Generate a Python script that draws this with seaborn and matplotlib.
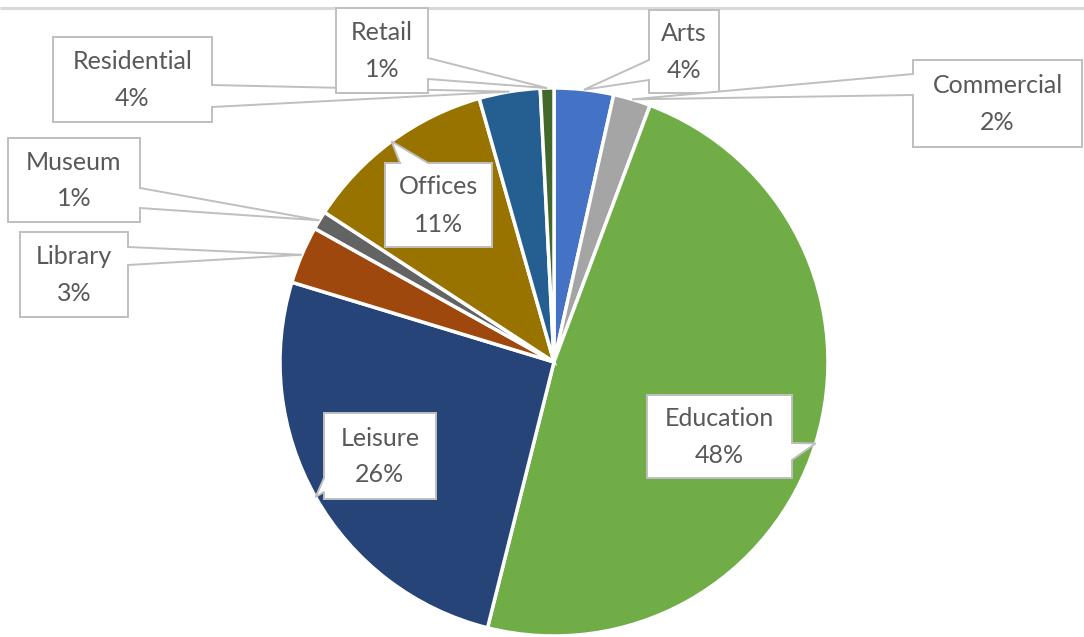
import numpy as np
import matplotlib
matplotlib.use("Agg")
import matplotlib.pyplot as plt
from matplotlib.patches import Polygon
import seaborn as sns

sns.set_theme(style="white")
plt.rcParams['font.family'] = ['Lato', 'DejaVu Sans']

# --------------------- Data ---------------------
categories = ['Arts', 'Commercial', 'Education', 'Leisure', 'Library',
              'Museum', 'Offices', 'Residential', 'Retail']
shares = [3.5, 2.2, 48.2, 25.8, 3.4, 1.1, 11.4, 3.6, 0.8]
colors = ['#4472C4', '#A5A5A5', '#70AD47', '#264478', '#9E480E',
          '#636363', '#997300', '#255E91', '#43682B']

# callout boxes in pixel coords (x0, y0, x1, y1), side the pointer leaves from,
# and where along that side the pointer attaches
W, H = 1084, 637
callouts = {
    'Arts':        ((649, 10, 719, 93), 'left', (60, 80)),
    'Commercial':  ((913, 60, 1082, 147), 'left', (74, 95)),
    'Education':   ((647, 395, 792, 478), 'right', (443, 460)),
    'Leisure':     ((324, 413, 436, 499), 'left', (478, 492)),
    'Library':     ((20, 232, 128, 317), 'right', (247, 265)),
    'Museum':      ((8, 138, 140, 222), 'right', (188, 208)),
    'Offices':     ((385, 163, 492, 247), 'top', (400, 428)),
    'Residential': ((53, 37, 212, 122), 'right', (85, 107)),
    'Retail':      ((336, 8, 428, 93), 'right', (58, 79)),
}

cx, cy, R = 554, H - 362, 274

fig = plt.figure(figsize=(W / 100, H / 100), dpi=100)
ax = fig.add_axes([0, 0, 1, 1])

wedges, _ = ax.pie(shares, colors=colors, startangle=90, counterclock=False,
                   center=(cx, cy), radius=R,
                   wedgeprops=dict(edgecolor='white', linewidth=2.5))

ax.set_xlim(0, W)
ax.set_ylim(0, H)
ax.set_aspect('equal')
ax.axis('off')

# chart border along the top
ax.plot([0, W], [H - 8, H - 8], color='#D9D9D9', lw=2.2, solid_capstyle='butt')


def callout_poly(box, side, att, tip):
    x0, y0, x1, y1 = box
    a, b = att
    if side == 'top':
        pts = [(x0, y0), (a, y0), tip, (b, y0), (x1, y0), (x1, y1), (x0, y1)]
    elif side == 'right':
        pts = [(x0, y0), (x1, y0), (x1, a), tip, (x1, b), (x1, y1), (x0, y1)]
    else:  # left
        pts = [(x0, y0), (x1, y0), (x1, y1), (x0, y1), (x0, b), tip, (x0, a)]
    return [(px, H - py) for px, py in pts]


for name, share, w in zip(categories, shares, wedges):
    mid = np.deg2rad((w.theta1 + w.theta2) / 2)
    tip_x = cx + R * np.cos(mid)
    tip_y = H - (cy + R * np.sin(mid))
    box, side, att = callouts[name]
    poly = Polygon(callout_poly(box, side, att, (tip_x, tip_y)), closed=True,
                   facecolor='white', edgecolor='#BFBFBF', lw=1.4, zorder=5)
    ax.add_patch(poly)
    bx = (box[0] + box[2]) / 2
    by = (box[1] + box[3]) / 2
    ax.text(bx, H - (by - 18), name, ha='center', va='center',
            fontsize=18, color='#595959', zorder=6)
    ax.text(bx, H - (by + 19), f"{round(share)}%", ha='center', va='center',
            fontsize=18, color='#595959', zorder=6)

fig.savefig('out.png', dpi=100)
